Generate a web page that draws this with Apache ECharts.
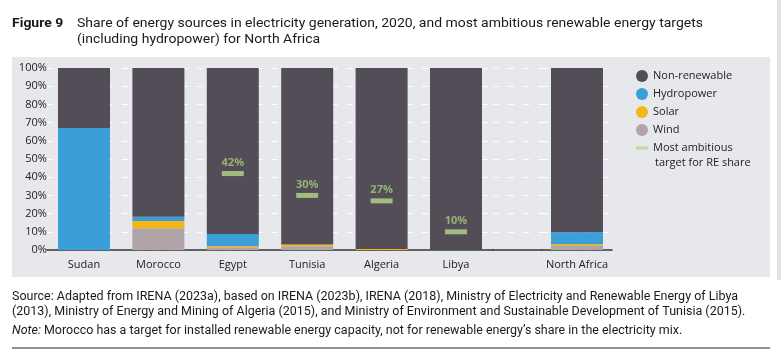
<!DOCTYPE html>
<html><head><meta charset="utf-8">
<script src="https://cdn.jsdelivr.net/npm/echarts@6/dist/echarts.min.js"></script>
<style>html,body{margin:0;padding:0;background:#fff}#c{width:784px;height:361px}</style>
</head><body><div id="c"></div>
<script>
const countries = ['Sudan', 'Morocco', 'Egypt', 'Tunisia', 'Algeria', 'Libya'];
const region = ['North Africa'];
const nonRenewable = [33, 81.8, 91.2, 97, 99.5, 100];
const hydropower   = [67, 2.3, 6.6, 0, 0, 0];
const solar        = [0, 4, 0.7, 1, 0.5, 0];
const wind         = [0, 12, 1.5, 2, 0, 0];
const target       = [null, null, 42, 30, 27, 10];
const regionNonRenewable = [90.3];
const regionHydropower = [6.5];
const regionSolar = [1];
const regionWind = [2.2];
const yTicks = [0, 10, 20, 30, 40, 50, 60, 70, 80, 90, 100];

const C = {nr:'#524d57', hy:'#3a9fd8', so:'#f2b619', wi:'#b1a4a9', tg:'#b7d78c'};
const FONT = 'Open Sans';
const TF = 'Roboto';

const titleLines = ['Share of energy sources in electricity generation, 2020, and most ambitious renewable energy targets', '(including hydropower) for North Africa'];
const srcLines = ['Source: Adapted from IRENA (2023a), based on IRENA (2023b), IRENA (2018), Ministry of Electricity and Renewable Energy of Libya', '(2013), Ministry of Energy and Mining of Algeria (2015), and Ministry of Environment and Sustainable Development of Tunisia (2015).'];
const noteText = 'Morocco has a target for installed renewable energy capacity, not for renewable energy\u2019s share in the electricity mix.';

const mctx = document.createElement('canvas').getContext('2d');
function fitScale(text, font, targetW) {
  mctx.font = font;
  return targetW / mctx.measureText(text).width;
}
const titleFont = '13px ' + TF;
const srcFont = '12px ' + TF;
const sTitle = fitScale(titleLines[0], titleFont, 626);
const sSrc = fitScale(srcLines[0], srcFont, 726);
const sNote = fitScale('Note: ' + noteText, srcFont, 671);

const chart = echarts.init(document.getElementById('c'), null, {renderer:'canvas'});

function stackSeries(xi, yi, stackName, arrs) {
  const defs = [['Wind', arrs[0], C.wi], ['Solar', arrs[1], C.so], ['Hydropower', arrs[2], C.hy], ['Non-renewable', arrs[3], C.nr]];
  return defs.map(d => ({
    name: d[0], type: 'bar', stack: stackName, xAxisIndex: xi, yAxisIndex: yi,
    data: d[1], barWidth: 52, itemStyle: {color: d[2]}, emphasis: {disabled: true}, animation: false
  }));
}

const yAxisBase = (gi, showLabels) => ({
  type: 'value', gridIndex: gi, min: yTicks[0], max: yTicks[yTicks.length-1], interval: 10,
  axisLine: {show: false}, axisTick: {show: false},
  axisLabel: {show: showLabels, formatter: v => v + '%', color: '#222222', fontSize: 11, fontFamily: FONT, margin: 0},
  splitLine: {show: true, lineStyle: {color: '#ffffff', width: 1.2, type: [6, 9]}}
});
const xAxisBase = (gi, data) => ({
  type: 'category', gridIndex: gi, data: data,
  axisLine: {show: true, lineStyle: {color: '#333333', width: 1.5}},
  axisTick: {show: false},
  axisLabel: {color: '#222222', fontSize: 11, fontFamily: FONT, margin: 9}
});

const option = {
  backgroundColor: '#ffffff',
  animation: false,
  graphic: [
    {type: 'rect', shape: {x: 12, y: 57, width: 758, height: 220}, style: {fill: '#e7e8ec'}, z: -10},
    {type: 'rect', shape: {x: 777, y: 0, width: 4, height: 280}, style: {fill: '#e2e3e7'}, z: -10},
    {type: 'line', shape: {x1: 12, y1: 348, x2: 770, y2: 348}, style: {stroke: '#222', lineWidth: 1}},
    {type: 'text', x: 12, y: 16, scaleX: sTitle, style: {text: 'Figure 9', font: 'bold 13px ' + TF, fill: '#1a1a1a', lineHeight: 16}},
    {type: 'text', x: 77, y: 16, scaleX: sTitle, style: {text: titleLines.join('\n'), font: titleFont, fill: '#1a1a1a', lineHeight: 16}},
    {type: 'text', x: 12, y: 289, scaleX: sSrc, style: {text: srcLines.join('\n'), font: srcFont, fill: '#1a1a1a', lineHeight: 15}},
    {type: 'text', x: 12, y: 324, scaleX: sNote, style: {text: '{i|Note:} ' + noteText, font: srcFont, fill: '#1a1a1a', lineHeight: 14, rich: {i: {fontStyle: 'italic', fontFamily: TF, fontSize: 12, fill: '#1a1a1a'}}}},
    {type: 'text', x: 655, y: 157, style: {text: 'target for RE share', font: '11px "' + FONT + '"', fill: '#222222'}}
  ],
  legend: {
    orient: 'vertical', left: 636, top: 70, padding: 0, itemWidth: 12, itemHeight: 12, itemGap: 6, itemStyle: {borderWidth: 0},
    textStyle: {fontSize: 11, fontFamily: FONT, color: '#222222', lineHeight: 12},
    selectedMode: false,
    data: [
      {name: 'Non-renewable', icon: 'circle'},
      {name: 'Hydropower', icon: 'circle'},
      {name: 'Solar', icon: 'circle'},
      {name: 'Wind', icon: 'circle'},
      {name: 'Most ambitious', icon: 'path://M0,0 L13,0 L13,3.5 L0,3.5 Z'}
    ]
  },
  grid: [
    {left: 46.8, top: 68, width: 446.4, height: 182},
    {left: 493.2, top: 68, width: 48.8, height: 182},
    {left: 542, top: 68, width: 70, height: 182}
  ],
  xAxis: [xAxisBase(0, countries), xAxisBase(1, ['']), xAxisBase(2, region)],
  yAxis: [yAxisBase(0, true), yAxisBase(1, false), yAxisBase(2, false)],
  series: [
    ...stackSeries(0, 0, 'a', [wind, solar, hydropower, nonRenewable]),
    ...stackSeries(2, 2, 'b', [regionWind, regionSolar, regionHydropower, regionNonRenewable]),
    {
      name: 'Most ambitious', type: 'scatter', xAxisIndex: 0, yAxisIndex: 0,
      data: target, symbol: 'rect', symbolSize: [22, 5], itemStyle: {color: C.tg}, z: 5,
      label: {show: true, position: 'top', distance: 3, formatter: p => p.value + '%', color: '#a9cc7e', fontWeight: 'bold', fontSize: 11, fontFamily: FONT},
      emphasis: {disabled: true}
    }
  ]
};
chart.setOption(option);
</script></body></html>
